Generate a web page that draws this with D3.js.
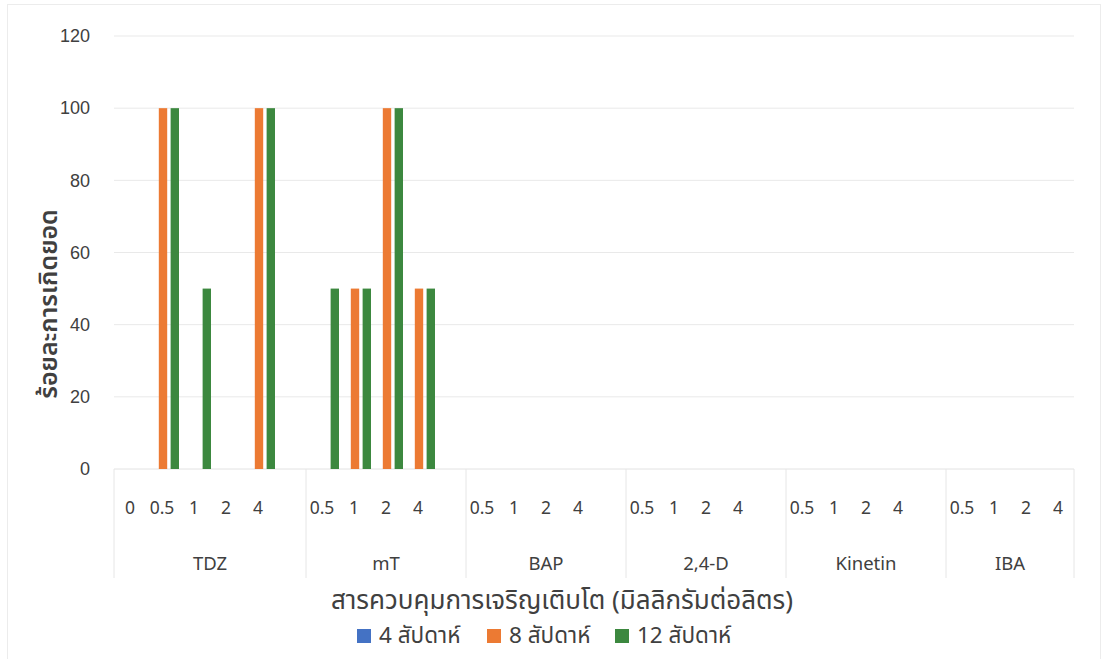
<!DOCTYPE html>
<html>
<head>
<meta charset="utf-8">
<script src="https://cdn.jsdelivr.net/npm/d3@7"></script>
<style>
  body { margin: 0; background: #fff; }
  text { font-family: "Noto Sans Thai", "Tahoma", "DejaVu Sans", sans-serif; fill: #404040; }
</style>
</head>
<body>
<div class="canvas"></div>
<script>
// ---- DATA --- //
const groups = ['TDZ', 'mT', 'BAP', '2,4-D', 'Kinetin', 'IBA'];
const doses = [
    ['0', '0.5', '1', '2', '4'],
    ['0.5', '1', '2', '4'],
    ['0.5', '1', '2', '4'],
    ['0.5', '1', '2', '4'],
    ['0.5', '1', '2', '4'],
    ['0.5', '1', '2', '4']
];
const seriesNames = ['4 สัปดาห์', '8 สัปดาห์', '12 สัปดาห์'];
const week4 = [0, 0, 0, 0, 0, 0, 0, 0, 0, 0, 0, 0, 0, 0, 0, 0, 0, 0, 0, 0, 0, 0, 0, 0, 0];
const week8 = [0, 100, 0, 0, 100, 0, 50, 100, 50, 0, 0, 0, 0, 0, 0, 0, 0, 0, 0, 0, 0, 0, 0, 0, 0];
const week12 = [0, 100, 50, 0, 100, 50, 50, 100, 50, 0, 0, 0, 0, 0, 0, 0, 0, 0, 0, 0, 0, 0, 0, 0, 0];
const yTicks = [0, 20, 40, 60, 80, 100, 120];
const colors = ['#4472c4', '#ec7a33', '#3c883f'];

// ---- BUILD SLOTS (blank slot after every group except the last) --- //
const slots = [];
const rows = [];
let n = 0;
groups.forEach((g, gi) => {
    doses[gi].forEach(d => {
        const key = g + '|' + d;
        slots.push(key);
        rows.push({ key, group: g, dose: d, values: [week4[n], week8[n], week12[n]] });
        n++;
    });
    if (gi < groups.length - 1) slots.push(g + '|_');
});

// ---- GRAPH CONTAINER SETUP --- //
const width = 1106, height = 659;
const margin = { top: 36, left: 114, right: 32 };
const graphWidth = width - margin.left - margin.right;
const graphHeight = 469 - margin.top;

const svg = d3.select('.canvas')
    .append('svg')
    .attr('width', width)
    .attr('height', height);

svg.append('rect')
    .attr('x', 7.5).attr('y', 4.5)
    .attr('width', 1093).attr('height', 700)
    .attr('fill', 'none')
    .attr('stroke', '#ececec');

const graph = svg.append('g')
    .attr('transform', `translate(${margin.left},${margin.top})`);

// ---- SCALES --- //
const x0 = d3.scaleBand().domain(slots).range([0, graphWidth]);
const x1 = d3.scaleBand().domain(d3.range(3)).range([1, x0.bandwidth() + 1]).paddingInner(0.29);
const y = d3.scaleLinear().domain([0, 120]).range([graphHeight, 0]);

// gridlines
graph.append('g')
    .selectAll('line')
    .data(yTicks.slice(1))
    .join('line')
    .attr('x1', 0).attr('x2', graphWidth)
    .attr('y1', d => y(d)).attr('y2', d => y(d))
    .attr('stroke', '#e9e9e9');

// y axis
const yAxis = d3.axisLeft(y).tickValues(yTicks).tickSize(0).tickPadding(24);
const yAxisGroup = graph.append('g').call(yAxis);
yAxisGroup.select('.domain').remove();
yAxisGroup.selectAll('text')
    .attr('font-size', 18)
    .style('font-family', '"Liberation Sans", Arial, sans-serif')
    .attr('fill', '#404040');

// x axis line
graph.append('line')
    .attr('x1', 0).attr('x2', graphWidth)
    .attr('y1', graphHeight).attr('y2', graphHeight)
    .attr('stroke', '#e2e2e2');

// ---- BARS --- //
const bars = graph.append('g')
    .selectAll('g')
    .data(rows)
    .join('g')
    .attr('transform', d => `translate(${x0(d.key)},0)`);

bars.selectAll('rect')
    .data(d => d.values)
    .join('rect')
    .attr('x', (v, i) => x1(i))
    .attr('width', x1.bandwidth())
    .attr('y', v => y(v))
    .attr('height', v => graphHeight - y(v))
    .attr('fill', (v, i) => colors[i]);

// dose tick labels
graph.append('g')
    .selectAll('text')
    .data(rows)
    .join('text')
    .attr('x', d => x0(d.key) + x0.bandwidth() / 2)
    .attr('y', 45)
    .attr('transform', `translate(0,${graphHeight})`)
    .attr('text-anchor', 'middle')
    .attr('font-size', 17.5)
    .text(d => d.dose);

// group labels + separators
const spans = groups.map((g, gi) => {
    const first = x0(g + '|' + doses[gi][0]);
    const last = gi < groups.length - 1 ? x0(g + '|_') : x0(g + '|' + doses[gi][doses[gi].length - 1]);
    return { g, start: first, end: last + x0.bandwidth() };
});

const sepX = [0].concat(spans.map(s => s.end));
graph.append('g')
    .selectAll('line')
    .data(sepX)
    .join('line')
    .attr('x1', d => d).attr('x2', d => d)
    .attr('y1', graphHeight).attr('y2', graphHeight + 109)
    .attr('stroke', '#e6e6e6');

graph.append('g')
    .selectAll('text')
    .data(spans)
    .join('text')
    .attr('x', d => (d.start + d.end) / 2)
    .attr('y', graphHeight + 101)
    .attr('text-anchor', 'middle')
    .attr('font-size', 18.5)
    .text(d => d.g);

// ---- AXIS TITLES --- //
svg.append('text')
    .attr('x', 562)
    .attr('y', 609)
    .attr('text-anchor', 'middle')
    .attr('font-size', 26)
    .text('สารควบคุมการเจริญเติบโต (มิลลิกรัมต่อลิตร)');

svg.append('text')
    .attr('transform', 'translate(57,304) rotate(-90)')
    .attr('text-anchor', 'middle')
    .attr('font-size', 25)
    .attr('font-weight', 600)
    .text('ร้อยละการเกิดยอด');

// ---- LEGEND --- //
const legendX = [357, 487, 615];
const legend = svg.append('g')
    .selectAll('g')
    .data(seriesNames)
    .join('g')
    .attr('transform', (d, i) => `translate(${legendX[i]},629)`);

legend.append('rect')
    .attr('width', 14).attr('height', 14)
    .attr('fill', (d, i) => colors[i]);

legend.append('text')
    .attr('x', 22).attr('y', 14)
    .attr('font-size', 22.5)
    .text(d => d);
</script>
</body>
</html>
